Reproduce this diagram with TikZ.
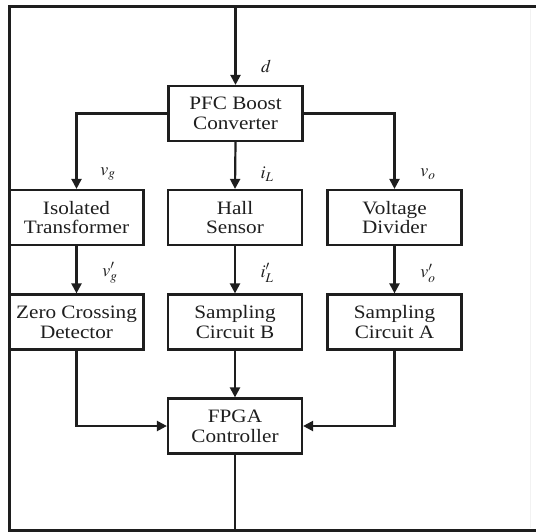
\documentclass[tikz,border=0pt]{standalone}
\usepackage{mathptmx}
\usepackage{fontspec}
\setmainfont{Liberation Serif}[FakeStretch=1.12]
\usetikzlibrary{arrows.meta}
\definecolor{ink}{HTML}{1E1E1E}
\tikzset{
  blk/.style={draw=ink, line width=2.2bp, minimum width=134bp, minimum height=55bp,
    inner sep=0pt, align=center, text=ink, font=\fontsize{19}{20}\selectfont},
  wire/.style={draw=ink, line width=2.2bp},
  arr/.style={wire, -{Triangle[length=10bp,width=10bp]}},
  lbl/.style={text=ink, font=\fontsize{18}{18}\selectfont, inner sep=0pt},
}
\begin{document}
\begin{tikzpicture}[x=1bp,y=-1bp]
\useasboundingbox (0,0) rectangle (536,532);
% nodes
\node[blk] (pfc) at (235.5,113.5) {PFC Boost\\Converter};
\node[blk] (it) at (76.5,217.5) {Isolated\\Transformer};
\node[blk] (hs) at (235,217.5) {Hall\\Sensor};
\node[blk] (vd) at (394.5,217.5) {Voltage\\Divider};
\node[blk] (zcd) at (76.5,322) {Zero Crossing\\Detector};
\node[blk] (scb) at (235,322) {Sampling\\Circuit B};
\node[blk] (sca) at (394.5,322) {Sampling\\Circuit A};
\node[blk] (fpga) at (235,426) {FPGA\\Controller};
% coordinates for frame and feedback
\coordinate (tl) at (9,7);
\coordinate (tr) at (536,7);
\coordinate (bl) at (9,530);
\coordinate (br) at (536,530);
\coordinate (fbt) at (235.5,7);
\coordinate (fbb) at (235,530);
% frame
\draw[draw=ink, line width=3bp] (tr) -- (tl) -- (bl) -- (br);
\draw[draw=gray!10, line width=1bp] (530,9) -- (530,528);
% feedback
\draw[wire] (fpga.south) -- (fbb);
\draw[arr] (fbt) -- (pfc.north);
% branches
\draw[arr] (pfc.west) -| (it.north);
\draw[arr] (pfc.south) -- (hs.north);
\draw[arr] (pfc.east) -| (vd.north);
\draw[arr] (it.south) -- (zcd.north);
\draw[arr] (hs.south) -- (scb.north);
\draw[arr] (vd.south) -- (sca.north);
\draw[arr] (zcd.south) |- (fpga.west);
\draw[arr] (scb.south) -- (fpga.north);
\draw[arr] (sca.south) |- (fpga.east);
% labels
\node[lbl] (ld) at (266,66) {$d$};
\node[lbl] (l1) at (108,174) {$v_g$};
\node[lbl] (l2) at (267,174) {$i_L$};
\node[lbl] (l3) at (428,174) {$v_o$};
\node[lbl] (l4) at (110,273) {$v'_g$};
\node[lbl] (l5) at (267,273) {$i'_L$};
\node[lbl] (l6) at (428,273) {$v'_o$};
\end{tikzpicture}
\end{document}
